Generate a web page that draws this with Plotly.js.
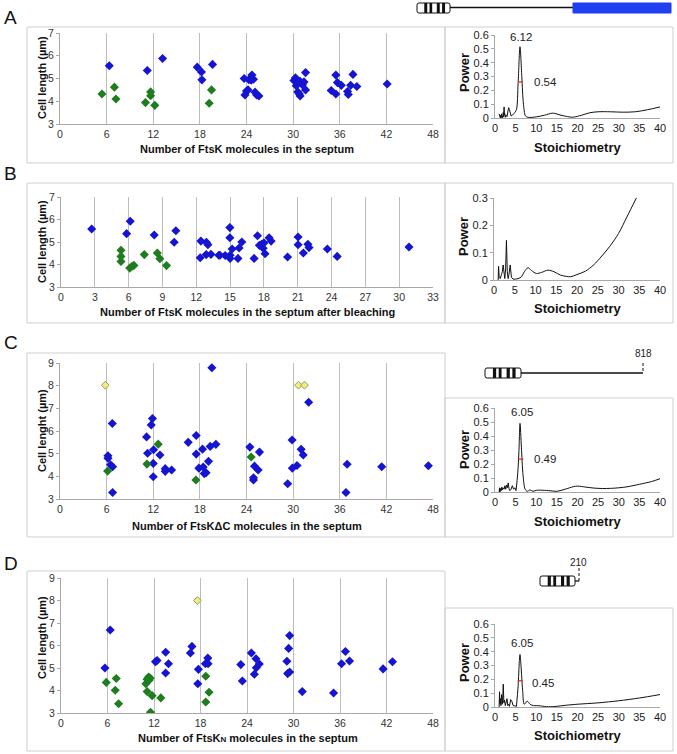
<!DOCTYPE html>
<html><head><meta charset="utf-8">
<script src="https://cdn.plot.ly/plotly-3.0.1.min.js"></script>
<style>html,body{margin:0;padding:0;background:#fff}</style>
</head><body><div id="chart" style="width:677px;height:754px"></div>
<script>
// ---------- Panel A : FtsK ----------
const aBlueX = [6.34,11.23,13.2,17.66,18.2,18.26,19.63,23.7,24.7,24.3,24.6,24.9,23.8,24.0,24.2,25.1,25.3,25.6,30.1,30.3,30.4,30.9,30.6,30.8,30.9,31.2,31.4,31.6,31.6,34.9,35.5,35.5,35.7,36.2,37.0,37.1,37.4,37.7,38.2,42.1];
const aBlueY = [5.56,5.35,5.88,5.5,5.29,4.94,5.62,5.0,5.15,4.95,4.92,4.97,4.28,4.45,4.5,4.4,4.28,4.23,4.91,5.03,4.68,4.88,4.41,4.32,4.23,4.72,4.85,5.26,4.5,4.47,4.32,5.15,4.82,4.7,4.43,4.3,4.7,5.18,4.65,4.76];
const aGreenX = [5.4,7.0,7.2,11.0,11.66,11.66,12.2,19.5,19.2];
const aGreenY = [4.32,4.62,4.1,3.94,4.41,4.24,3.82,4.5,3.91];
// ---------- Panel B : FtsK after bleaching ----------
const bBlueX = [2.72,5.82,6.14,8.27,10.04,10.19,12.41,12.35,12.88,12.9,13.03,13.3,14.0,14.1,14.56,14.98,14.98,15.0,15.0,15.18,15.7,15.8,16.04,17.13,17.43,17.6,17.8,17.93,18.0,18.1,18.46,18.64,20.1,21.03,21.03,21.5,21.9,22.0,23.63,24.5,30.87];
const bBlueY = [5.58,5.37,5.92,5.31,4.99,5.5,5.04,4.3,4.44,4.99,4.88,4.45,4.41,4.41,4.4,5.64,5.19,4.41,4.27,4.69,4.27,4.73,5.0,4.27,5.28,4.85,4.9,4.72,4.96,4.48,5.19,5.04,4.33,5.22,4.88,4.51,4.9,4.75,4.69,4.36,4.78];
const bGreenX = [5.32,5.32,5.32,6.1,6.3,6.47,7.39,8.54,8.77,9.36];
const bGreenY = [4.63,4.36,4.13,3.84,3.92,3.96,4.44,4.51,4.26,3.95];
// ---------- Panel C : FtsK delta C ----------
const cBlueX = [6.73,6.17,6.17,6.5,6.77,6.77,11.14,11.74,11.9,11.27,12.04,12.0,12.0,12.86,13.54,13.54,14.36,16.5,17.53,17.53,17.87,18.34,18.43,18.56,18.8,19.11,19.33,19.54,20.06,24.43,25.03,24.9,24.9,25.5,25.67,29.3,29.87,29.9,30.5,31.03,31.3,32.0,36.95,36.8,41.4,47.4];
const cBlueY = [6.33,4.91,4.8,4.51,4.42,3.29,5.74,6.27,6.55,5.02,5.17,4.57,3.98,4.94,4.34,4.22,4.28,5.5,5.8,4.98,4.36,5.2,4.41,4.12,4.16,4.66,5.32,8.79,5.41,5.29,4.45,3.94,3.84,4.28,5.07,3.67,5.6,4.36,4.48,5.19,4.94,7.27,4.53,3.29,4.42,4.47];
const cGreenX = [6.13,11.19,12.64,17.49,24.6];
const cGreenY = [4.23,4.54,5.42,3.84,4.85];
const cYellowX = [5.83,30.69,31.46];
const cYellowY = [8.02,8.02,8.02];
// ---------- Panel D : FtsK N ----------
const dBlueX = [5.67,6.35,12.19,12.4,13.5,13.5,13.87,16.7,16.9,17.65,17.73,18.63,18.98,18.94,23.2,23.4,24.56,24.95,25.16,25.2,25.59,29.15,29.24,29.37,29.5,29.5,31.13,35.17,36.2,36.7,37.23,41.56,42.77];
const dBlueY = [5.0,6.69,5.28,5.33,5.7,4.78,5.19,5.67,5.96,4.3,4.94,5.19,5.19,5.44,5.15,4.42,5.67,4.72,5.41,5.01,5.18,5.3,4.75,5.87,4.82,6.44,3.95,3.89,5.19,5.73,5.31,4.96,5.28];
const dGreenX = [5.84,7.0,7.13,7.43,10.95,11.12,11.1,11.3,11.5,11.4,11.76,11.55,12.88,18.68,18.68,19.1];
const dGreenY = [4.36,4.01,4.53,3.41,4.3,3.95,4.5,4.6,4.55,4.47,3.77,3.03,3.67,4.63,3.49,3.92];
const dYellowX = [17.6];
const dYellowY = [8.0];

// ---------- Power spectra ----------
const powANoiseX = [1.0,1.1,1.2,1.3,1.4,1.5,1.6,1.7,1.8,1.9,2.0,2.1,2.2,2.3,2.4,2.5,2.7,2.9,3.1,3.3,3.5,3.7,3.9,4.2];
const powANoiseY = [0.03,0.005,0.025,0.0,0.02,0.005,0.03,0.0,0.015,0.005,0.04,0.01,0.08,0.02,0.03,0.005,0.02,0.01,0.05,0.075,0.06,0.03,0.015,0.02];
const powAX = [4.2,4.8,5.2,5.6,6.06,6.5,6.9,7.4,8,10,12,14,16,18,19,21,23,25,28,31,34,37,40];
const powAY = [0.02,0.04,0.06,0.25,0.515,0.3,0.1,0.015,0.005,0.008,0.02,0.035,0.02,0.008,0.006,0.02,0.038,0.045,0.045,0.042,0.045,0.06,0.08];
const powBNoiseX = [1.0,1.1,1.25,1.5,1.8,2.0,2.2,2.4,2.6,2.8,3.0,3.2,3.4,3.6,3.9,4.2,4.6];
const powBNoiseY = [0.0,0.05,0.01,0.005,0.02,0.03,0.055,0.02,0.005,0.04,0.145,0.03,0.005,0.02,0.055,0.01,0.003];
const powBX = [4.6,5.5,6.5,7.3,8.2,9,10.2,11.5,13,14.5,16,17.5,18.5,20,22,24,26,28,30,32,34.3];
const powBY = [0.003,0.004,0.01,0.03,0.045,0.035,0.024,0.028,0.036,0.03,0.018,0.013,0.012,0.02,0.032,0.055,0.088,0.125,0.17,0.23,0.3];
const powCNoiseX = [1.0,1.1,1.2,1.35,1.5,1.65,1.8,2.0,2.2,2.4,2.6,2.8,3.0,3.2,3.4,3.6,3.9,4.2,4.5,4.8,5.1];
const powCNoiseY = [0.0,0.03,0.0,0.025,0.01,0.035,0.015,0.03,0.02,0.045,0.02,0.05,0.03,0.065,0.025,0.01,0.02,0.045,0.02,0.03,0.01];
const powCX = [5.1,5.5,5.8,6.06,6.4,6.8,7.3,7.8,8.5,9.2,10,11,13,15,17,19,20,22,24,26,28,30,32,35,38,40];
const powCY = [0.01,0.13,0.29,0.49,0.32,0.12,0.02,0.005,0.015,0.005,0.012,0.013,0.01,0.005,0.02,0.038,0.042,0.035,0.028,0.025,0.026,0.03,0.037,0.055,0.075,0.095];
const powDNoiseX = [1.0,1.1,1.2,1.3,1.45,1.6,1.75,1.9,2.0,2.15,2.3,2.5,2.7,2.9,3.1,3.3,3.5,3.8,4.1,4.4,4.8,5.2];
const powDNoiseY = [0.0,0.11,0.02,0.06,0.01,0.09,0.02,0.08,0.165,0.03,0.05,0.01,0.04,0.06,0.01,0.02,0.005,0.053,0.04,0.01,0.008,0.005];
const powDX = [5.2,5.6,5.9,6.06,6.3,6.7,7.1,7.8,8.5,9.3,10,11,12,13,15,17,20,25,30,35,40];
const powDY = [0.005,0.15,0.33,0.38,0.3,0.12,0.02,0.042,0.02,0.01,0.01,0.008,0.004,0.002,0.005,0.012,0.02,0.03,0.045,0.065,0.09];
// half-height markers (red) and labels
const peakLabels = ["6.12","6.05","6.05"];
const widthLabels = ["0.54","0.49","0.45"];
const redAX = [5.6,6.8], redAY = [0.26,0.26];
const redCX = [5.66,6.87], redCY = [0.235,0.235];
const redDX = [5.5,6.7], redDY = [0.19,0.19];

const scatterXTicks = [0,6,12,18,24,30,36,42,48];
const bleachXTicks = [0,3,6,9,12,15,18,21,24,27,30,33];

// ---------- geometry helpers ----------
const W = 677, H = 754;
const X = p => p / W, Y = p => 1 - p / H;
const FONT = "Liberation Sans, Arial, sans-serif";
const BLUE = "#1414d2", GREEN = "#1e7d1e";

function sc(x, y, xa, ya, color, line, size) {
  return {type: "scatter", mode: "markers", x: x, y: y, xaxis: xa, yaxis: ya, hoverinfo: "skip",
    marker: {symbol: "diamond", size: size || 7, color: color, line: line || {width: 0}}};
}
function ln(x, y, xa, ya, shape, color, w) {
  return {type: "scatter", mode: "lines", x: x, y: y, xaxis: xa, yaxis: ya, hoverinfo: "skip",
    line: {color: color || "#111", width: w || 1, shape: shape, smoothing: 0.9}};
}
const yellowLine = {width: 1, color: "#9a9a60"};

const data = [
  sc(aBlueX, aBlueY, "x", "y", BLUE), sc(aGreenX, aGreenY, "x", "y", GREEN),
  sc(bBlueX, bBlueY, "x3", "y3", BLUE), sc(bGreenX, bGreenY, "x3", "y3", GREEN),
  sc(cBlueX, cBlueY, "x5", "y5", BLUE), sc(cGreenX, cGreenY, "x5", "y5", GREEN), sc(cYellowX, cYellowY, "x5", "y5", "#eeee80", yellowLine, 6),
  sc(dBlueX, dBlueY, "x7", "y7", BLUE), sc(dGreenX, dGreenY, "x7", "y7", GREEN), sc(dYellowX, dYellowY, "x7", "y7", "#eeee80", yellowLine, 6),
  ln(powANoiseX, powANoiseY, "x2", "y2", "linear"), ln(powAX, powAY, "x2", "y2", "spline"),
  ln(powBNoiseX, powBNoiseY, "x4", "y4", "linear"), ln(powBX, powBY, "x4", "y4", "spline"),
  ln(powCNoiseX, powCNoiseY, "x6", "y6", "linear"), ln(powCX, powCY, "x6", "y6", "spline"),
  ln(powDNoiseX, powDNoiseY, "x8", "y8", "linear"), ln(powDX, powDY, "x8", "y8", "spline"),
  ln(redAX, redAY, "x2", "y2", "linear", "#e0301e", 1.3),
  ln(redCX, redCY, "x6", "y6", "linear", "#e0301e", 1.3),
  ln(redDX, redDY, "x8", "y8", "linear", "#e0301e", 1.3)
];

const tickFont = {family: FONT, size: 10.5, color: "#333"};
function scatX(x0, x1, range, ticks, anchor) {
  return {domain: [X(x0), X(x1)], range: range, tickvals: ticks, ticktext: ticks.map(String), anchor: anchor,
    showgrid: true, gridcolor: "#bdbdbd", gridwidth: 1, zeroline: false, showline: true, linecolor: "#a8a8a8",
    ticks: "", tickfont: tickFont, fixedrange: true};
}
function scatY(y0, y1, range, anchor) {
  return {domain: [Y(y1), Y(y0)], range: range, dtick: 1, anchor: anchor, showgrid: false, zeroline: false,
    showline: true, linecolor: "#a8a8a8", ticks: "outside", ticklen: 3, tickcolor: "#a8a8a8", tickfont: tickFont, fixedrange: true};
}
const powTick = {family: FONT, size: 11, color: "#222"};
function powX(y, anchor, x0) {
  return {domain: [X(x0 || 495), X(660)], range: [0, 40], dtick: 5, anchor: anchor, showgrid: false, zeroline: false,
    showline: true, linecolor: "#a8a8a8", ticks: "", tickfont: powTick, fixedrange: true};
}
function powY(y0, y1, top, anchor) {
  return {domain: [Y(y1), Y(y0)], range: [0, top], dtick: 0.1, anchor: anchor, showgrid: false, zeroline: false,
    showline: true, linecolor: "#a8a8a8", ticks: "outside", ticklen: 3, tickcolor: "#a8a8a8", tickfont: powTick, fixedrange: true};
}

const layout = {
  width: W, height: H, margin: {l: 0, r: 0, t: 0, b: 0}, paper_bgcolor: "#fff", plot_bgcolor: "rgba(0,0,0,0)",
  showlegend: false, font: {family: FONT},
  xaxis: scatX(60, 433, [0, 48], scatterXTicks, "y"), yaxis: scatY(33, 124, [3, 7], "x"),
  xaxis2: powX(118, "y2"), yaxis2: powY(35, 118, 0.6, "x2"),
  xaxis3: scatX(61, 433, [0, 33], bleachXTicks, "y3"), yaxis3: scatY(197, 287, [3, 7], "x3"),
  xaxis4: powX(280, "y4", 494), yaxis4: powY(198, 280, 0.3, "x4"),
  xaxis5: scatX(60, 433, [0, 48], scatterXTicks, "y5"), yaxis5: scatY(363, 499, [3, 9], "x5"),
  xaxis6: powX(492, "y6"), yaxis6: powY(408, 492, 0.6, "x6"),
  xaxis7: scatX(61, 433, [0, 48], scatterXTicks, "y7"), yaxis7: scatY(578, 713, [3, 9], "x7"),
  xaxis8: powX(707, "y8"), yaxis8: powY(624, 707, 0.6, "x8"),
  shapes: [], annotations: []
};

// frames
function box(x0, y0, x1, y1) {
  layout.shapes.push({type: "rect", xref: "paper", yref: "paper", x0: X(x0), x1: X(x1), y0: Y(y1), y1: Y(y0),
    line: {color: "#cfcfcf", width: 1}, layer: "below"});
}
box(27, 27, 445, 163); box(445, 27, 673, 163);
box(27, 183, 445, 323); box(445, 183, 673, 323);
box(27, 353, 445, 537); box(445, 398, 673, 537);
box(27, 571, 445, 751); box(445, 608, 673, 751);

// protein domain sketches
function domainBox(x0, x1, y0, y1) {
  const rx = 2 / W, ry = 2 / H;
  const a = X(x0), b = X(x1), t = Y(y0), u = Y(y1);
  const path = `M ${a + rx},${t} L ${b - rx},${t} Q ${b},${t} ${b},${t - ry} L ${b},${u + ry} Q ${b},${u} ${b - rx},${u} L ${a + rx},${u} Q ${a},${u} ${a},${u + ry} L ${a},${t - ry} Q ${a},${t} ${a + rx},${t} Z`;
  layout.shapes.push({type: "path", xref: "paper", yref: "paper", path: path, fillcolor: "#fff", line: {color: "#111", width: 1}});
  const w = x1 - x0;
  [[0.22, 0.31], [0.38, 0.46], [0.6, 0.69], [0.76, 0.85]].forEach(f => {
    layout.shapes.push({type: "rect", xref: "paper", yref: "paper", x0: X(x0 + f[0] * w), x1: X(x0 + f[1] * w),
      y0: Y(y1), y1: Y(y0), fillcolor: "#111", line: {width: 0}});
  });
}
function hline(x0, x1, y, color, w) {
  layout.shapes.push({type: "line", xref: "paper", yref: "paper", x0: X(x0), x1: X(x1), y0: Y(y), y1: Y(y), line: {color: color || "#111", width: w || 1.3}});
}
function dashV(x, y0, y1) {
  layout.shapes.push({type: "line", xref: "paper", yref: "paper", x0: X(x), x1: X(x), y0: Y(y0), y1: Y(y1), line: {color: "#111", width: 1, dash: "3px,2px"}});
}
// A: full length FtsK
hline(450, 574, 7.5);
layout.shapes.push({type: "rect", xref: "paper", yref: "paper", x0: X(573), x1: X(671), y0: Y(13), y1: Y(3), fillcolor: "#1f3ff0", line: {color: "#1f3ff0", width: 1}});
domainBox(417, 450, 3, 13);
// C: FtsK delta C (818)
hline(521, 643, 373);
domainBox(485, 521, 368, 378);
dashV(643, 363, 373);
// D: FtsK N (210)
hline(575, 579, 581);
domainBox(540, 575, 576, 586);
dashV(579, 568, 581);

function ann(text, x, y, opts) {
  layout.annotations.push(Object.assign({text: text, xref: "paper", yref: "paper", x: X(x), y: Y(y), showarrow: false,
    xanchor: "center", yanchor: "middle", font: {family: FONT, size: 11, color: "#111"}}, opts || {}));
}
ann("818", 643, 354, {font: {family: FONT, size: 10, color: "#222"}});
ann("210", 578, 562, {font: {family: FONT, size: 10, color: "#222"}});

// panel letters
ann("A", 11, 18, {font: {family: FONT, size: 19, color: "#111"}});
ann("B", 11, 173, {font: {family: FONT, size: 19, color: "#111"}});
ann("C", 11, 342, {font: {family: FONT, size: 19, color: "#111"}});
ann("D", 11, 563, {font: {family: FONT, size: 19, color: "#111"}});

// axis titles
const bt = {family: FONT, size: 11, color: "#111"};
ann("<b>Number of FtsK molecules in the septum</b>", 247, 149, {font: bt});
ann("<b>Number of FtsK molecules in the septum after bleaching</b>", 248, 312, {font: bt});
ann("<b>Number of FtsKΔC molecules in the septum</b>", 247, 526, {font: bt});
ann("<b>Number of FtsK<span style='font-size:8px'>N</span> molecules in the septum</b>", 248, 738, {font: bt});
ann("<b>Cell length (µm)</b>", 42, 78, {font: bt, textangle: -90});
ann("<b>Cell length (µm)</b>", 42, 242, {font: bt, textangle: -90});
ann("<b>Cell lenght (µm)</b>", 42, 431, {font: bt, textangle: -90});
ann("<b>Cell length (µm)</b>", 42, 638, {font: bt, textangle: -90});
const pt = {family: FONT, size: 13, color: "#111"};
[[73, 147], [237, 308], [450, 521], [663, 735]].forEach(p => {
  ann("<b>Power</b>", 464, p[0], {font: pt, textangle: -90});
  ann("<b>Stoichiometry</b>", 577, p[1], {font: pt});
});

// peak and width labels on the power plots
const lf = {family: FONT, size: 11.5, color: "#222"};
function dAnn(text, x, y, xa, ya, xanchor) {
  layout.annotations.push({text: text, x: x, y: y, xref: xa, yref: ya, showarrow: false, xanchor: xanchor || "center", yanchor: "middle", font: lf});
}
dAnn(peakLabels[0], 6.3, 0.585, "x2", "y2");
dAnn(widthLabels[0], 8.9, 0.26, "x2", "y2", "left");
dAnn(peakLabels[1], 6.5, 0.57, "x6", "y6");
dAnn(widthLabels[1], 8.9, 0.235, "x6", "y6", "left");
dAnn(peakLabels[2], 6.5, 0.46, "x8", "y8");
dAnn(widthLabels[2], 8.5, 0.177, "x8", "y8", "left");

Plotly.newPlot("chart", data, layout, {displayModeBar: false, staticPlot: true});
</script></body></html>
